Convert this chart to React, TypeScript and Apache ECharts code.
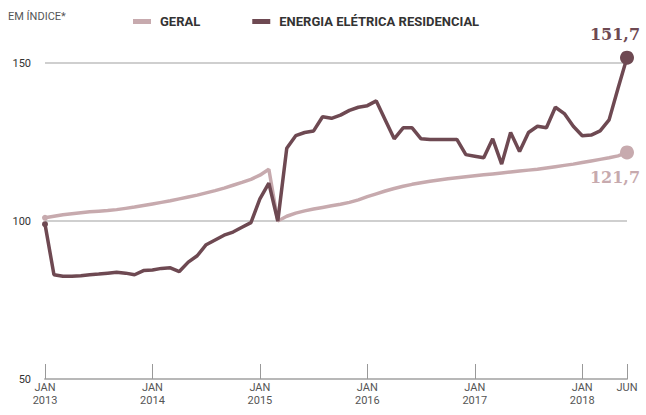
import React, { useEffect, useRef } from "react";
import * as echarts from "echarts";

const years = [2013, 2014, 2015, 2016, 2017, 2018];
const monthsLastYear = 6; // Jan..Jun 2018
const categories: string[] = [];
years.forEach((y) => {
  const n = y === 2018 ? monthsLastYear : 12;
  for (let m = 1; m <= n; m++) categories.push(`${y}-${String(m).padStart(2, "0")}`);
});

const geral = [
  101, 101.5, 102, 102.3, 102.6, 102.9, 103.1, 103.3, 103.6, 104, 104.4, 104.9,
  105.4, 105.9, 106.4, 107, 107.6, 108.2, 108.9, 109.6, 110.4, 111.3, 112.2, 113.2,
  114.5, 116.4, 100, 101.5, 102.5, 103.2, 103.8, 104.3, 104.8, 105.3, 105.9, 106.7,
  107.7, 108.6, 109.5, 110.3, 111, 111.6, 112.1, 112.6, 113, 113.4, 113.7, 114,
  114.3, 114.6, 114.9, 115.2, 115.5, 115.8, 116.1, 116.4, 116.8, 117.2, 117.6, 118,
  118.5, 119, 119.5, 120, 120.6, 121.7,
];

const energia = [
  99, 83, 82.5, 82.5, 82.7, 83, 83.2, 83.5, 83.8, 83.5, 83, 84.3,
  84.5, 85, 85.2, 84, 87, 89, 92.5, 94, 95.5, 96.5, 98, 99.5,
  107, 112, 100, 123, 127, 128, 128.5, 133, 132.5, 133.5, 135, 136,
  136.5, 138, 132, 126, 129.5, 129.5, 126, 125.8, 125.8, 125.8, 125.8, 121,
  120.5, 120, 126, 118, 128, 122, 128, 130, 129.5, 136, 134, 130,
  127, 127.2, 128.5, 132, 142, 151.7,
];

const yTicks = [50, 100, 150];
const seriesNames = ["GERAL", "ENERGIA ELÉTRICA RESIDENCIAL"];
const endLabels = ["121,7", "151,7"];

const COL_GERAL = "#c7aaae";
const COL_ENERGIA = "#6e4952";
const FONT = "Roboto, 'DejaVu Sans', sans-serif";

function buildData(values: number[], color: string, endLabel: string, labelPos: "top" | "bottom") {
  const last = values.length - 1;
  return values.map((v, i) => {
    if (i === 0) {
      return { value: v, symbol: "circle", symbolSize: 6, itemStyle: { color } };
    }
    if (i === last) {
      return {
        value: v,
        symbol: "circle",
        symbolSize: 14,
        itemStyle: { color },
        label: {
          show: true,
          position: labelPos,
          distance: labelPos === "top" ? 8 : 10,
          offset: [-12, 0],
          formatter: endLabel,
          color,
          fontFamily: "'DejaVu Serif', serif",
          fontWeight: "bold",
          fontSize: 16,
        },
      };
    }
    return v;
  });
}

export default function App() {
  const ref = useRef<HTMLDivElement>(null);
  useEffect(() => {
    if (!ref.current) return;
    const chart = echarts.init(ref.current, null, { renderer: "svg" });
    const isLabelIdx = (i: number) => i % 12 === 0 || i === categories.length - 1;
    chart.setOption({
      animation: false,
      backgroundColor: "#ffffff",
      textStyle: { fontFamily: FONT },
      graphic: [
        {
          type: "text",
          left: 8,
          top: 11,
          style: { text: "EM ÍNDICE*", fill: "#555", fontSize: 11, fontFamily: FONT },
        },
      ],
      legend: {
        left: 128,
        top: 10,
        icon: "rect",
        itemWidth: 18,
        itemHeight: 5,
        itemGap: 52,
        selectedMode: false,
        data: seriesNames,
        textStyle: { color: "#333", fontWeight: "bold", fontSize: 13, fontFamily: FONT, padding: [0, 0, 0, 4] },
      },
      grid: { left: 45, right: 19, top: 63, bottom: 36, containLabel: false },
      xAxis: {
        type: "category",
        data: categories,
        boundaryGap: false,
        axisLine: { show: true, lineStyle: { color: "#b8b8b8", width: 2 } },
        axisTick: {
          show: true,
          inside: true,
          length: 15,
          interval: (i: number) => isLabelIdx(i),
          lineStyle: { color: "#999", width: 1 },
        },
        axisLabel: {
          interval: (i: number) => isLabelIdx(i),
          margin: 2,
          color: "#555",
          fontSize: 11,
          lineHeight: 13,
          fontFamily: FONT,
          formatter: (val: string, i: number) => {
            if (i === categories.length - 1) return "JUN";
            return `JAN\n${val.slice(0, 4)}`;
          },
        },
        splitLine: { show: false },
      },
      yAxis: {
        type: "value",
        min: yTicks[0],
        max: yTicks[yTicks.length - 1],
        interval: 50,
        axisLine: { show: false },
        axisTick: { show: false },
        axisLabel: { color: "#333", fontSize: 11, margin: 14, fontFamily: FONT },
        splitLine: { show: true, lineStyle: { color: "#cfcfcf", width: 2 } },
      },
      series: [
        {
          name: seriesNames[0],
          type: "line",
          data: buildData(geral, COL_GERAL, endLabels[0], "bottom"),
          symbol: "none",
          showSymbol: true,
          showAllSymbol: true,
          clip: false,
          color: COL_GERAL,
          lineStyle: { color: COL_GERAL, width: 3.5 },
          z: 2,
        },
        {
          name: seriesNames[1],
          type: "line",
          data: buildData(energia, COL_ENERGIA, endLabels[1], "top"),
          symbol: "none",
          showSymbol: true,
          showAllSymbol: true,
          clip: false,
          color: COL_ENERGIA,
          lineStyle: { color: COL_ENERGIA, width: 3.5 },
          z: 3,
        },
      ],
    });
    return () => chart.dispose();
  }, []);
  return (
    <div
      ref={ref}
      style={{ position: "fixed", left: 0, top: 0, width: 646, height: 415 }}
    />
  );
}
